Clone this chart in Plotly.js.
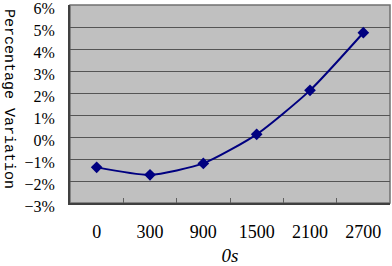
<!DOCTYPE html>
<html>
<head>
<meta charset="utf-8">
<script src="https://cdn.plot.ly/plotly-3.0.1.min.js"></script>
<style>html,body{margin:0;padding:0;background:#fff;}#chart{width:392px;height:266px;}</style>
</head>
<body>
<div id="chart"></div>
<script>
var categories = ['0', '300', '900', '1500', '2100', '2700'];
var variation = [-1.38, -1.72, -1.2, 0.12, 2.12, 4.74];
var yTicks = [-3, -2, -1, 0, 1, 2, 3, 4, 5, 6];
var xTitle = '0s';
var yTitle = 'Percentage Variation';

var trace = {
  x: categories,
  y: variation,
  type: 'scatter',
  mode: 'lines+markers',
  line: {color: '#000080', width: 2, shape: 'spline', smoothing: 0.6},
  marker: {symbol: 'diamond', size: 9, color: '#000080'},
  cliponaxis: false
};

var layout = {
  width: 392, height: 266,
  margin: {l: 70, r: 2, t: 5, b: 63},
  paper_bgcolor: '#ffffff',
  plot_bgcolor: '#c0c0c0',
  showlegend: false,
  font: {family: '"Liberation Serif", serif', color: '#000'},
  xaxis: {
    type: 'category',
    range: [-0.5, 5.5],
    tickson: 'boundaries',
    ticks: 'inside', ticklen: 5, tickcolor: '#606060', tickwidth: 1,
    showgrid: false, zeroline: false,
    showline: true, linecolor: '#404040', linewidth: 2,
    tickfont: {family: '"Liberation Serif", serif', size: 18, color: '#000'},
    ticklabelstandoff: 11,
    title: {text: '<i>' + xTitle + '</i>', font: {family: '"Liberation Serif", serif', size: 19, color: '#000'}, standoff: 12},
    fixedrange: true
  },
  yaxis: {
    range: [-3, 6],
    tickvals: yTicks,
    ticktext: yTicks.map(function(v){ return (v < 0 ? '\u2212' + Math.abs(v) : String(v)) + '%'; }),
    ticks: '',
    ticklabeloverflow: 'allow',
    ticklabelshift: 3,
    showgrid: true, gridcolor: '#555555', gridwidth: 1,
    zeroline: false,
    showline: true, linecolor: '#404040', linewidth: 2,
    tickfont: {family: '"Liberation Serif", serif', size: 16, color: '#000'},
    ticklabelstandoff: 10,
    fixedrange: true
  },
  shapes: [{
    type: 'rect', xref: 'paper', yref: 'paper', x0: 0, x1: 1, y0: 0, y1: 1,
    line: {color: '#707070', width: 1.5}, layer: 'below'
  }],
  annotations: [{
    text: yTitle, textangle: 90,
    xref: 'paper', yref: 'paper', x: 0, y: 0.5,
    xanchor: 'center', yanchor: 'middle',
    xshift: -61, yshift: 5, showarrow: false,
    font: {family: '"Liberation Mono", monospace', size: 15, color: '#000'}
  }]
};

Plotly.newPlot('chart', [trace], layout, {displayModeBar: false, staticPlot: true});
</script>
</body>
</html>
